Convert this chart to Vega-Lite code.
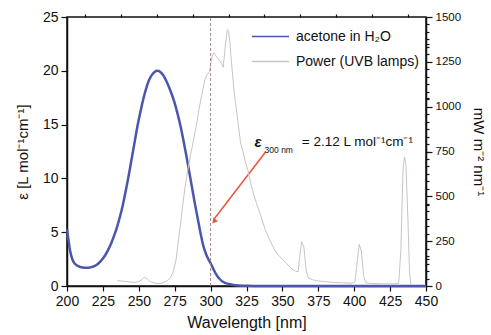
{
  "$schema": "https://vega.github.io/schema/vega-lite/v6.json",
  "width": 359,
  "height": 269,
  "autosize": "none",
  "padding": {"left": 67, "top": 17, "right": 65, "bottom": 49},
  "background": "white",
  "config": {
    "font": "Liberation Sans",
    "view": {"stroke": "#111", "strokeWidth": 1.5},
    "axis": {
      "grid": false,
      "domainColor": "#111",
      "domainWidth": 1.5,
      "tickColor": "#111",
      "tickWidth": 1.2,
      "labelFont": "Liberation Sans",
      "labelColor": "#111",
      "labelFontSize": 14,
      "labelOverlap": false,
      "labelBound": false,
      "labelFlush": false,
      "titleFont": "Liberation Sans",
      "titleColor": "#111",
      "titleFontWeight": "normal",
      "titleFontSize": 15
    },
    "legend": {"labelFont": "Liberation Sans", "labelFontSize": 14, "labelColor": "#111"}
  },
  "datasets": {
    "acetone": [
      {"wl": 200, "eps": 5.3}, {"wl": 201, "eps": 4.3}, {"wl": 202, "eps": 3.4}, {"wl": 203, "eps": 2.8},
      {"wl": 204, "eps": 2.4}, {"wl": 205, "eps": 2.15}, {"wl": 207, "eps": 1.9}, {"wl": 209, "eps": 1.78},
      {"wl": 211, "eps": 1.72}, {"wl": 213, "eps": 1.7}, {"wl": 215, "eps": 1.7}, {"wl": 217, "eps": 1.75},
      {"wl": 219, "eps": 1.85}, {"wl": 221, "eps": 2.0}, {"wl": 223, "eps": 2.25}, {"wl": 225, "eps": 2.55},
      {"wl": 227, "eps": 2.95}, {"wl": 229, "eps": 3.45}, {"wl": 231, "eps": 4.05}, {"wl": 233, "eps": 4.75},
      {"wl": 235, "eps": 5.55}, {"wl": 237, "eps": 6.5}, {"wl": 239, "eps": 7.6}, {"wl": 241, "eps": 8.9},
      {"wl": 243, "eps": 10.3}, {"wl": 245, "eps": 11.8}, {"wl": 247, "eps": 13.3}, {"wl": 249, "eps": 14.8},
      {"wl": 251, "eps": 16.1}, {"wl": 253, "eps": 17.3}, {"wl": 255, "eps": 18.3}, {"wl": 257, "eps": 19.1},
      {"wl": 259, "eps": 19.6}, {"wl": 261, "eps": 19.9}, {"wl": 263, "eps": 20.0}, {"wl": 265, "eps": 19.9},
      {"wl": 267, "eps": 19.6}, {"wl": 269, "eps": 19.1}, {"wl": 271, "eps": 18.5}, {"wl": 273, "eps": 17.8},
      {"wl": 275, "eps": 17.0}, {"wl": 277, "eps": 16.0}, {"wl": 279, "eps": 14.9}, {"wl": 281, "eps": 13.6},
      {"wl": 283, "eps": 12.2}, {"wl": 285, "eps": 10.7}, {"wl": 287, "eps": 9.2}, {"wl": 289, "eps": 7.7},
      {"wl": 291, "eps": 6.3}, {"wl": 293, "eps": 4.9}, {"wl": 295, "eps": 3.7}, {"wl": 297, "eps": 2.9},
      {"wl": 299, "eps": 2.35}, {"wl": 300, "eps": 2.12}, {"wl": 302, "eps": 1.55}, {"wl": 304, "eps": 1.05},
      {"wl": 306, "eps": 0.7}, {"wl": 308, "eps": 0.45}, {"wl": 310, "eps": 0.3}, {"wl": 313, "eps": 0.18},
      {"wl": 316, "eps": 0.1}, {"wl": 320, "eps": 0.05}, {"wl": 325, "eps": 0.02}, {"wl": 330, "eps": 0.0},
      {"wl": 360, "eps": 0.0}, {"wl": 400, "eps": 0.0}, {"wl": 450, "eps": 0.0}
    ],
    "power": [
      {"wl": 235, "p": 30}, {"wl": 238, "p": 28}, {"wl": 241, "p": 25}, {"wl": 244, "p": 22},
      {"wl": 247, "p": 20}, {"wl": 250, "p": 25}, {"wl": 252, "p": 35}, {"wl": 254, "p": 48},
      {"wl": 256, "p": 40}, {"wl": 258, "p": 25}, {"wl": 260, "p": 18}, {"wl": 263, "p": 14},
      {"wl": 266, "p": 15}, {"wl": 269, "p": 25}, {"wl": 272, "p": 45}, {"wl": 274, "p": 80},
      {"wl": 276, "p": 150}, {"wl": 278, "p": 280}, {"wl": 280, "p": 410}, {"wl": 282, "p": 540},
      {"wl": 284, "p": 640}, {"wl": 286, "p": 730}, {"wl": 288, "p": 810}, {"wl": 290, "p": 890},
      {"wl": 292, "p": 990}, {"wl": 294, "p": 1070}, {"wl": 296, "p": 1150}, {"wl": 297.5, "p": 1180},
      {"wl": 299, "p": 1190}, {"wl": 300, "p": 1230}, {"wl": 301, "p": 1280}, {"wl": 302.3, "p": 1300},
      {"wl": 303.5, "p": 1285}, {"wl": 305, "p": 1270}, {"wl": 307, "p": 1250}, {"wl": 308.8, "p": 1220},
      {"wl": 310, "p": 1320}, {"wl": 311.6, "p": 1430}, {"wl": 312.5, "p": 1420}, {"wl": 313.4, "p": 1360},
      {"wl": 314.5, "p": 1250}, {"wl": 315.7, "p": 1140}, {"wl": 317, "p": 1040}, {"wl": 319, "p": 920},
      {"wl": 321, "p": 790}, {"wl": 322.6, "p": 750}, {"wl": 324, "p": 700}, {"wl": 326, "p": 645},
      {"wl": 328, "p": 570}, {"wl": 330, "p": 510}, {"wl": 332, "p": 460}, {"wl": 335, "p": 390},
      {"wl": 338, "p": 315}, {"wl": 341, "p": 260}, {"wl": 344, "p": 210}, {"wl": 347, "p": 175},
      {"wl": 350, "p": 150}, {"wl": 353, "p": 125}, {"wl": 356, "p": 100}, {"wl": 359, "p": 82},
      {"wl": 361, "p": 80}, {"wl": 362, "p": 160}, {"wl": 363.4, "p": 247}, {"wl": 365, "p": 215},
      {"wl": 366.5, "p": 90}, {"wl": 368, "p": 45}, {"wl": 371, "p": 35}, {"wl": 374, "p": 30},
      {"wl": 378, "p": 25}, {"wl": 385, "p": 20}, {"wl": 392, "p": 18}, {"wl": 398, "p": 15},
      {"wl": 400.5, "p": 22}, {"wl": 402, "p": 130}, {"wl": 403.5, "p": 232}, {"wl": 405, "p": 195},
      {"wl": 406.5, "p": 60}, {"wl": 408, "p": 18}, {"wl": 412, "p": 14}, {"wl": 420, "p": 12},
      {"wl": 428, "p": 12}, {"wl": 431, "p": 15}, {"wl": 432.5, "p": 200}, {"wl": 434, "p": 650},
      {"wl": 435, "p": 720}, {"wl": 436, "p": 680}, {"wl": 437.5, "p": 350}, {"wl": 438.5, "p": 80},
      {"wl": 439.5, "p": 10}, {"wl": 440, "p": 5}
    ],
    "arrow": [{"wl": 338.4, "eps": 12.48, "wl2": 302.6, "eps2": 6.25}],
    "head": [{"wl": 302.4, "eps": 6.0}],
    "labelEps": [{"wl": 330.5, "eps": 12.9, "text": "ε"}],
    "labelSub": [{"wl": 337.6, "eps": 12.4, "text": "300 nm"}],
    "labelEq": [{"wl": 363.5, "eps": 13.0, "text": "= 2.12 L mol⁻¹cm⁻¹"}]
  },
  "layer": [
    {
      "layer": [
        {
          "data": {"name": "acetone"},
          "mark": {"type": "line", "interpolate": "monotone", "strokeWidth": 2.5},
          "encoding": {
            "x": {
              "field": "wl", "type": "quantitative",
              "scale": {"domain": [200, 450], "nice": false},
              "axis": {"values": [200, 225, 250, 275, 300, 325, 350, 375, 400, 425, 450], "title": "Wavelength [nm]", "titleFontSize": 16, "tickSize": 5, "labelPadding": 3, "titlePadding": 6}
            },
            "y": {
              "field": "eps", "type": "quantitative",
              "scale": {"domain": [0, 25], "nice": false},
              "axis": {"values": [0, 5, 10, 15, 20, 25], "title": "ε [L mol⁻¹cm⁻¹]", "tickSize": 6, "labelPadding": 3, "titlePadding": 12}
            },
            "color": {
              "datum": "acetone in H₂O",
              "scale": {"domain": ["acetone in H₂O", "Power (UVB lamps)"], "range": ["#4c56aa", "#cdc2c2"]},
              "legend": {"title": null, "orient": "top-right", "offset": 7, "symbolType": "stroke", "symbolSize": 1369, "symbolStrokeWidth": 1.5, "clipHeight": 25, "rowPadding": -8, "labelOffset": 6, "padding": 0}
            }
          }
        },
        {
          "data": {"name": "arrow"},
          "mark": {"type": "rule", "color": "#e8543a", "strokeWidth": 1.5},
          "encoding": {
            "x": {"field": "wl", "type": "quantitative", "axis": {"values": [200, 225, 250, 275, 300, 325, 350, 375, 400, 425, 450], "title": "Wavelength [nm]", "titleFontSize": 16, "tickSize": 5, "labelPadding": 3, "titlePadding": 6}},
            "y": {"field": "eps", "type": "quantitative", "axis": {"values": [2.5, 7.5, 12.5, 17.5, 22.5], "labels": false, "domain": false, "tickSize": 3, "title": null}},
            "x2": {"field": "wl2"},
            "y2": {"field": "eps2"}
          }
        },
        {
          "data": {"name": "head"},
          "mark": {"type": "point", "shape": "triangle-up", "filled": true, "color": "#e8543a", "size": 35, "angle": 218, "opacity": 1},
          "encoding": {
            "x": {"field": "wl", "type": "quantitative", "axis": {"values": [200, 225, 250, 275, 300, 325, 350, 375, 400, 425, 450], "title": "Wavelength [nm]", "titleFontSize": 16, "tickSize": 5, "labelPadding": 3, "titlePadding": 6}},
            "y": {"field": "eps", "type": "quantitative", "axis": null}
          }
        },
        {
          "data": {"name": "labelEps"},
          "mark": {"type": "text", "align": "left", "baseline": "alphabetic", "fontSize": 15, "fontStyle": "italic", "fontWeight": "bold", "color": "#111"},
          "encoding": {
            "x": {"field": "wl", "type": "quantitative", "axis": {"values": [200, 225, 250, 275, 300, 325, 350, 375, 400, 425, 450], "title": "Wavelength [nm]", "titleFontSize": 16, "tickSize": 5, "labelPadding": 3, "titlePadding": 6}},
            "y": {"field": "eps", "type": "quantitative", "axis": null},
            "text": {"field": "text"}
          }
        },
        {
          "data": {"name": "labelSub"},
          "mark": {"type": "text", "align": "left", "baseline": "alphabetic", "fontSize": 8.5, "color": "#111"},
          "encoding": {
            "x": {"field": "wl", "type": "quantitative", "axis": {"values": [200, 225, 250, 275, 300, 325, 350, 375, 400, 425, 450], "title": "Wavelength [nm]", "titleFontSize": 16, "tickSize": 5, "labelPadding": 3, "titlePadding": 6}},
            "y": {"field": "eps", "type": "quantitative", "axis": null},
            "text": {"field": "text"}
          }
        },
        {
          "data": {"name": "labelEq"},
          "mark": {"type": "text", "align": "left", "baseline": "alphabetic", "fontSize": 13.5, "color": "#111"},
          "encoding": {
            "x": {"field": "wl", "type": "quantitative", "axis": {"values": [200, 225, 250, 275, 300, 325, 350, 375, 400, 425, 450], "title": "Wavelength [nm]", "titleFontSize": 16, "tickSize": 5, "labelPadding": 3, "titlePadding": 6}},
            "y": {"field": "eps", "type": "quantitative", "axis": null},
            "text": {"field": "text"}
          }
        }
      ],
      "resolve": {"axis": {"y": "independent"}}
    },
    {
      "layer": [
        {
          "data": {"name": "power"},
          "mark": {"type": "line", "strokeWidth": 1},
          "encoding": {
            "x": {
              "field": "wl", "type": "quantitative",
              "axis": {"values": [212.5, 237.5, 262.5, 287.5, 312.5, 337.5, 362.5, 387.5, 412.5, 437.5], "labels": false, "domain": false, "tickSize": 3, "title": null}
            },
            "y": {
              "field": "p", "type": "quantitative",
              "scale": {"domain": [0, 1500], "nice": false},
              "axis": {"orient": "right", "values": [0, 250, 500, 750, 1000, 1250, 1500], "format": "d", "title": "mW m⁻² nm⁻¹", "labelFontSize": 11.5, "tickSize": 6, "labelPadding": 3, "titlePadding": 10}
            },
            "color": {"datum": "Power (UVB lamps)"}
          }
        },
        {
          "data": {"values": [{"wl": 300, "lo": 0, "hi": 1500}]},
          "mark": {"type": "rule", "color": "#a08686", "strokeWidth": 1, "strokeDash": [3, 2]},
          "encoding": {
            "x": {"field": "wl", "type": "quantitative", "axis": {"values": [212.5, 237.5, 262.5, 287.5, 312.5, 337.5, 362.5, 387.5, 412.5, 437.5], "labels": false, "domain": false, "tickSize": 3, "title": null}},
            "y": {"field": "lo", "type": "quantitative", "axis": {"orient": "right", "values": [41.67, 83.33, 125, 166.67, 208.33, 291.67, 333.33, 375, 416.67, 458.33, 541.67, 583.33, 625, 666.67, 708.33, 791.67, 833.33, 875, 916.67, 958.33, 1041.67, 1083.33, 1125, 1166.67, 1208.33, 1291.67, 1333.33, 1375, 1416.67, 1458.33], "labels": false, "domain": false, "tickSize": 3, "title": null}},
            "y2": {"field": "hi"}
          }
        }
      ],
      "resolve": {"axis": {"y": "independent"}}
    }
  ],
  "resolve": {"scale": {"y": "independent"}, "axis": {"x": "independent"}}
}
